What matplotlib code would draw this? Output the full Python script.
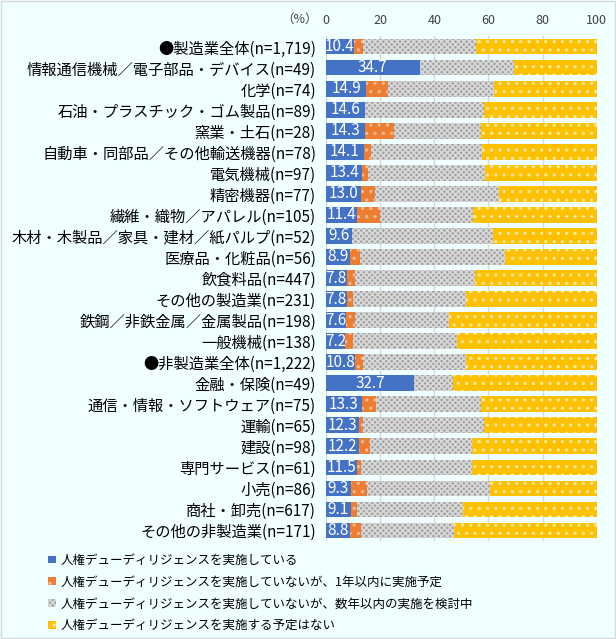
import matplotlib
matplotlib.use("Agg")
import matplotlib.pyplot as plt
import numpy as np

plt.rcParams['font.family'] = ['Noto Sans CJK JP', 'DejaVu Sans']
plt.rcParams['hatch.linewidth'] = 1.2

categories = [
    "●製造業全体(n=1,719)",
    "情報通信機械／電子部品・デバイス(n=49)",
    "化学(n=74)",
    "石油・プラスチック・ゴム製品(n=89)",
    "窯業・土石(n=28)",
    "自動車・同部品／その他輸送機器(n=78)",
    "電気機械(n=97)",
    "精密機器(n=77)",
    "繊維・織物／アパレル(n=105)",
    "木材・木製品／家具・建材／紙パルプ(n=52)",
    "医療品・化粧品(n=56)",
    "飲食料品(n=447)",
    "その他の製造業(n=231)",
    "鉄鋼／非鉄金属／金属製品(n=198)",
    "一般機械(n=138)",
    "●非製造業全体(n=1,222)",
    "金融・保険(n=49)",
    "通信・情報・ソフトウェア(n=75)",
    "運輸(n=65)",
    "建設(n=98)",
    "専門サービス(n=61)",
    "小売(n=86)",
    "商社・卸売(n=617)",
    "その他の非製造業(n=171)",
]

implemented = [10.4, 34.7, 14.9, 14.6, 14.3, 14.1, 13.4, 13.0, 11.4, 9.6, 8.9, 7.8,
               7.8, 7.6, 7.2, 10.8, 32.7, 13.3, 12.3, 12.2, 11.5, 9.3, 9.1, 8.8]
within_1yr = [3.4, 0.0, 8.1, 0.0, 10.7, 2.6, 2.1, 5.2, 8.6, 0.0, 3.6, 3.1,
              2.2, 3.0, 2.9, 3.0, 0.0, 5.3, 1.5, 4.1, 1.6, 5.8, 2.3, 4.1]
within_years = [41.5, 34.7, 39.2, 43.8, 32.1, 41.0, 43.3, 45.5, 34.3, 51.9, 53.6, 44.1,
                41.6, 34.8, 38.4, 37.9, 14.3, 38.7, 44.6, 37.8, 41.0, 45.3, 39.1, 34.5]
no_plan = [44.7, 30.6, 37.8, 41.6, 42.9, 42.3, 41.2, 36.4, 45.7, 38.5, 33.9, 45.0,
           48.5, 54.5, 51.4, 48.3, 53.1, 42.7, 41.5, 45.9, 45.9, 39.5, 49.6, 52.6]

series_names = [
    "人権デューディリジェンスを実施している",
    "人権デューディリジェンスを実施していないが、1年以内に実施予定",
    "人権デューディリジェンスを実施していないが、数年以内の実施を検討中",
    "人権デューディリジェンスを実施する予定はない",
]

bg = "#F0FFFF"
fig = plt.figure(figsize=(6.16, 6.39), dpi=100, facecolor=bg)
fig.patches.append(plt.Rectangle((0.002, 0.002), 0.996, 0.996, transform=fig.transFigure,
                                 fill=False, edgecolor="#D9D9D9", linewidth=1))
ax = fig.add_axes([0.529, 0.154, 0.44, 0.789])
ax.set_facecolor(bg)

y = np.arange(len(categories))
h = 0.72
left = np.zeros(len(categories))

styles = [
    dict(color="#4472C4"),
    dict(color="#ED7D31", hatch="..", edgecolor="#F8B990"),
    dict(color="#A0A0A0", hatch="xxxxxx", edgecolor="#D8D8D8"),
    dict(color="#FFC000", hatch="..", edgecolor="#FFE89A"),
]
bars = []
for vals, name, st in zip([implemented, within_1yr, within_years, no_plan], series_names, styles):
    vals = np.array(vals)
    b = ax.barh(y, vals, left=left, height=h, label=name, linewidth=0, **st)
    bars.append(b)
    left += vals

# value labels on the blue bars
for yi, v in zip(y, implemented):
    ax.text(v / 2, yi, f"{v:.1f}", color="white", ha="center", va="center", fontsize=11)

ax.set_xlim(0, 100)
ax.set_ylim(len(categories) - 0.5, -0.5)
ax.set_xticks([0, 20, 40, 60, 80, 100])
ax.xaxis.tick_top()
ax.tick_params(axis='x', length=0, labelsize=9, colors="#404040", pad=7)
ax.tick_params(axis='y', length=0, labelsize=11, pad=7)
ax.set_yticks(y)
ax.set_yticklabels(categories)
ax.set_axisbelow(True)
ax.grid(axis='x', color="#D9D9D9", linewidth=1)
for s in ax.spines.values():
    s.set_visible(False)

fig.text(300 / 616, 1 - 19 / 639, "（%）", ha="center", va="center", fontsize=9, color="#404040")

fig.legend(handles=bars, labels=series_names, loc="upper left",
           bbox_to_anchor=(0.07, 0.141), frameon=False, fontsize=9,
           handlelength=0.6, handleheight=0.6, handletextpad=0.4, labelspacing=0.7,
           borderaxespad=0)

fig.savefig("out.png", dpi=100, facecolor=bg)
